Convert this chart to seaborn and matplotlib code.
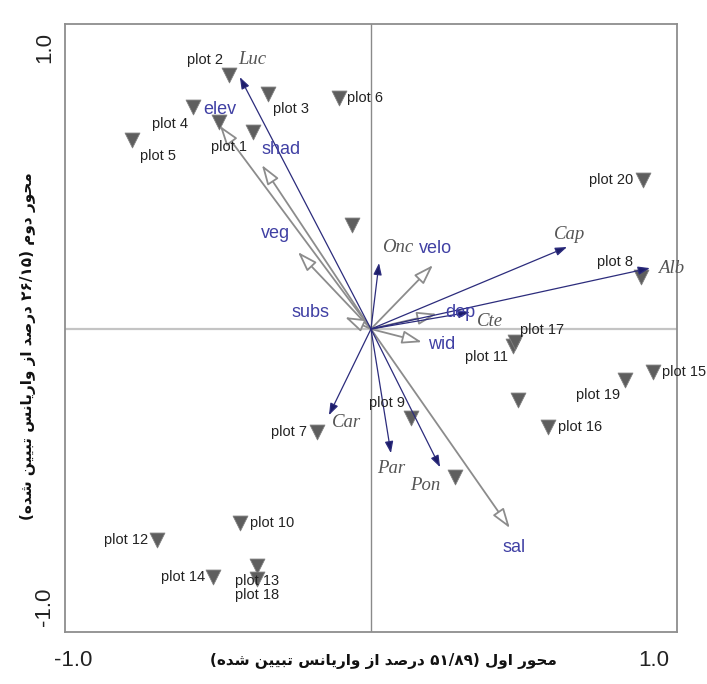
import re

import matplotlib
matplotlib.use("Agg")
import matplotlib.pyplot as plt
import seaborn as sns

# ---- data (CCA biplot scores, axis 1 / axis 2) ----
plot_names = ["plot 1", "plot 2", "plot 3", "plot 4", "plot 5", "plot 6", "plot 7",
              "plot 8", "plot 9", "plot 10", "plot 11", "plot 12", "plot 13", "plot 14",
              "plot 15", "plot 16", "plot 17", "plot 18", "plot 19", "plot 20",
              "", "", "", ""]
plot_x = [-0.396, -0.477, -0.346, -0.597, -0.802, -0.107, -0.181,
          0.906, 0.134, -0.440, 0.477, -0.718, -0.383, -0.530,
          0.946, 0.594, 0.483, -0.383, 0.852, 0.913,
          -0.510, -0.064, 0.493, 0.282]
plot_y = [0.663, 0.855, 0.791, 0.747, 0.636, 0.778, -0.347,
          0.175, -0.300, -0.653, -0.057, -0.710, -0.798, -0.835,
          -0.145, -0.330, -0.044, -0.842, -0.172, 0.502,
          0.697, 0.350, -0.239, -0.498]

species_names = ["Luc", "Onc", "Cap", "Alb", "Cte", "Car", "Par", "Pon"]
species_x = [-0.440, 0.027, 0.658, 0.936, 0.332, -0.141, 0.067, 0.232]
species_y = [0.848, 0.222, 0.276, 0.205, 0.057, -0.290, -0.418, -0.465]

env_names = ["elev", "shad", "veg", "velo", "subs", "dep", "wid", "sal"]
env_x = [-0.507, -0.366, -0.245, 0.208, -0.087, 0.221, 0.171, 0.466]
env_y = [0.684, 0.552, 0.259, 0.215, 0.040, 0.051, -0.044, -0.670]

tick_values = [-1.0, -0.5, 0.0, 0.5, 1.0]
tick_labels = ["-1.0", "", "", "", "1.0"]

x_title = "محور اول (۵۱/۸۹ درصد از واریانس تبیین شده)"
y_title = "محور دوم (۲۶/۱۵ درصد از واریانس تبیین شده)"

# ---- label placement (offset in points, ha) ----
plot_label_pos = {
    "plot 1": (-4, -11, "right"), "plot 2": (-4, 11, "right"),
    "plot 3": (3.5, -11, "left"), "plot 4": (-4, -12, "right"),
    "plot 5": (6, -11.5, "left"), "plot 6": (6, 0, "left"),
    "plot 7": (-7, 0, "right"), "plot 8": (-6, 11, "right"),
    "plot 9": (-4, 11, "right"), "plot 10": (7, 0, "left"),
    "plot 11": (-4, -8, "right"), "plot 12": (-6.5, 0, "right"),
    "plot 13": (0, -11, "center"), "plot 14": (-6, 0, "right"),
    "plot 15": (6.5, 0, "left"), "plot 16": (7, 0, "left"),
    "plot 17": (3.5, 9, "left"), "plot 18": (0, -11.5, "center"),
    "plot 19": (-3.5, -11, "right"), "plot 20": (-7, 0, "right"),
}
species_label_pos = {
    "Luc": (-1.5, 13, "left"), "Onc": (2, 11, "left"), "Cap": (2, 9, "center"),
    "Alb": (6, 0, "left"), "Cte": (5, -7, "left"), "Car": (2, -5, "left"),
    "Par": (0, -11, "center"), "Pon": (0, -13, "right"),
}
env_label_pos = {
    "elev": (0, 12, "center"), "shad": (0, 11, "left"), "veg": (-6, 13.5, "right"),
    "velo": (1.5, 12, "center"), "subs": (-11, 3, "right"), "dep": (6, 1, "left"),
    "wid": (4.5, -2, "left"), "sal": (3, -14, "center"),
}

# ---- minimal Persian shaping (matplotlib has no bidi / joining) ----
AR_FORMS = {
    "ا": ("\uFE8D", "\uFE8E", None, None),
    "ب": ("\uFE8F", "\uFE90", "\uFE91", "\uFE92"),
    "ت": ("\uFE95", "\uFE96", "\uFE97", "\uFE98"),
    "ح": ("\uFEA1", "\uFEA2", "\uFEA3", "\uFEA4"),
    "د": ("\uFEA9", "\uFEAA", None, None),
    "ر": ("\uFEAD", "\uFEAE", None, None),
    "ز": ("\uFEAF", "\uFEB0", None, None),
    "س": ("\uFEB1", "\uFEB2", "\uFEB3", "\uFEB4"),
    "ش": ("\uFEB5", "\uFEB6", "\uFEB7", "\uFEB8"),
    "ص": ("\uFEB9", "\uFEBA", "\uFEBB", "\uFEBC"),
    "ل": ("\uFEDD", "\uFEDE", "\uFEDF", "\uFEE0"),
    "م": ("\uFEE1", "\uFEE2", "\uFEE3", "\uFEE4"),
    "ن": ("\uFEE5", "\uFEE6", "\uFEE7", "\uFEE8"),
    "ه": ("\uFEE9", "\uFEEA", "\uFEEB", "\uFEEC"),
    "و": ("\uFEED", "\uFEEE", None, None),
    "ی": ("\uFBFC", "\uFBFD", "\uFBFE", "\uFBFF"),
}


def persian(text):
    out = []
    for i, ch in enumerate(text):
        if ch not in AR_FORMS:
            out.append(ch)
            continue
        prev = text[i - 1] if i > 0 else ""
        nxt = text[i + 1] if i + 1 < len(text) else ""
        join_prev = prev in AR_FORMS and AR_FORMS[prev][2] is not None
        join_next = nxt in AR_FORMS and AR_FORMS[ch][2] is not None
        iso, fin, ini, med = AR_FORMS[ch]
        if join_prev and join_next:
            out.append(med)
        elif join_prev:
            out.append(fin)
        elif join_next:
            out.append(ini)
        else:
            out.append(iso)
    s = "".join(out)[::-1]
    # numbers stay left-to-right, brackets get mirrored
    s = re.sub(r"[0-9\u06F0-\u06F9/]+", lambda m: m.group(0)[::-1], s)
    return s.translate(str.maketrans("()", ")("))


sns.set_style("white")
plt.rcParams["font.family"] = ["Liberation Sans", "DejaVu Sans"]

fig = plt.figure(figsize=(7.07, 6.84), dpi=100)
ax = fig.add_axes([0.0919, 0.076, 0.8656, 0.889])

ax.axvline(0, color="#8a8a8a", lw=1.0, zorder=1)
ax.axhline(0, color="#c4c4c4", lw=1.6, zorder=1)

sns.scatterplot(x=plot_x, y=plot_y, marker="v", s=115, color="#5e5e5e",
                edgecolor="#808080", linewidth=0.6, ax=ax, legend=False, zorder=2)

for name, x, y in zip(plot_names, plot_x, plot_y):
    if not name:
        continue
    dx, dy, ha = plot_label_pos[name]
    ax.annotate(name, (x, y), xytext=(dx, dy), textcoords="offset points",
                ha=ha, va="center", fontsize=10.5, color="#222222", zorder=5,
                annotation_clip=False)

# environmental variables: grey arrows with open heads
for name, x, y in zip(env_names, env_x, env_y):
    ax.annotate("", xy=(x, y), xytext=(0, 0),
                arrowprops=dict(arrowstyle="-|>,head_length=0.6,head_width=0.2",
                                mutation_scale=20, fc="white", ec="#8c8c8c",
                                lw=1.3, shrinkA=0, shrinkB=0), zorder=3)
    dx, dy, ha = env_label_pos[name]
    ax.annotate(name, (x, y), xytext=(dx, dy), textcoords="offset points",
                ha=ha, va="center", fontsize=13, color="#4040a4", zorder=5)

# species: thin navy arrows with filled heads
for name, x, y in zip(species_names, species_x, species_y):
    ax.annotate("", xy=(x, y), xytext=(0, 0),
                arrowprops=dict(arrowstyle="-|>,head_length=0.7,head_width=0.25",
                                mutation_scale=10, fc="#1c1c6a", ec="#2c2c7c",
                                lw=0.9, shrinkA=0, shrinkB=0), zorder=4)
    dx, dy, ha = species_label_pos[name]
    ax.annotate(name, (x, y), xytext=(dx, dy), textcoords="offset points",
                ha=ha, va="center", fontsize=13.5, color="#555555",
                family="Liberation Serif", style="italic", zorder=5)

ax.set_xlim(-1.027, 1.027)
ax.set_ylim(-1.02, 1.027)

ax.set_xticks(tick_values)
ax.set_xticklabels(tick_labels, fontsize=16, color="#222222")
ax.set_yticks(tick_values)
ax.set_yticklabels(tick_labels, fontsize=16, color="#222222", rotation=90)
ax.tick_params(axis="x", direction="inout", length=6, color="#888888", pad=10)
ax.tick_params(axis="y", direction="inout", length=6, color="#888888", pad=4)
xt = ax.get_xticklabels()
xt[-1].set_ha("right")
yt = ax.get_yticklabels()
yt[0].set_va("bottom")
yt[-1].set_va("top")

for sp in ax.spines.values():
    sp.set_color("#8e8e8e")
    sp.set_linewidth(1.3)

ax.set_xlabel(persian(x_title), family="DejaVu Sans", fontsize=11,
              fontweight="bold", color="#111111")
ax.set_ylabel(persian(y_title), family="DejaVu Sans", fontsize=11,
              fontweight="bold", color="#111111")
ax.xaxis.set_label_coords(0.52, -0.048)
ax.xaxis.label.set_va("center")
ax.yaxis.set_label_coords(-0.06, 0.47)
ax.yaxis.label.set_va("center")

fig.savefig("out.png", dpi=100)
